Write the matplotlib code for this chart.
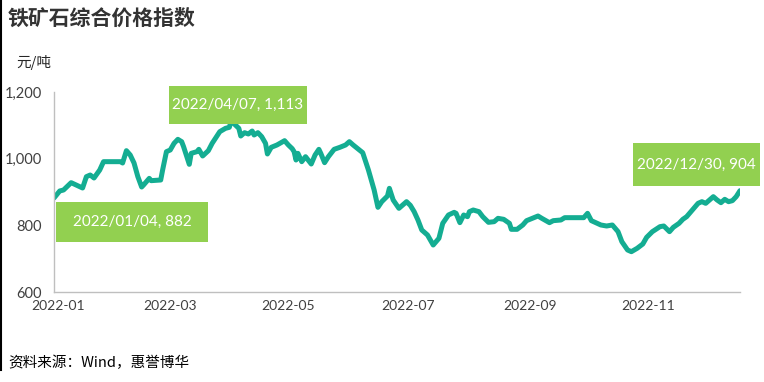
import matplotlib
matplotlib.use("Agg")
import matplotlib.pyplot as plt
from matplotlib.patches import Rectangle
from matplotlib.lines import Line2D
import pandas as pd

plt.rcParams['font.family'] = ['Lato', 'Noto Sans CJK SC', 'DejaVu Sans']

# values (元/吨)
dates = ['2022-01-04', '2022-01-07', '2022-01-09', '2022-01-13', '2022-01-19', '2022-01-21',
         '2022-01-23', '2022-01-25', '2022-01-28', '2022-01-30', '2022-02-02', '2022-02-08',
         '2022-02-09', '2022-02-11', '2022-02-13', '2022-02-15', '2022-02-17', '2022-02-19',
         '2022-02-20', '2022-02-23', '2022-02-24', '2022-03-01', '2022-03-02', '2022-03-04',
         '2022-03-06', '2022-03-08', '2022-03-10', '2022-03-12', '2022-03-13', '2022-03-16',
         '2022-03-17', '2022-03-20', '2022-03-21', '2022-03-23', '2022-03-26', '2022-03-28',
         '2022-04-01', '2022-04-04', '2022-04-06', '2022-04-07', '2022-04-11', '2022-04-12',
         '2022-04-14', '2022-04-16', '2022-04-18', '2022-04-19', '2022-04-21', '2022-04-23',
         '2022-04-25', '2022-04-26', '2022-04-28', '2022-05-01', '2022-05-05', '2022-05-07',
         '2022-05-09', '2022-05-10', '2022-05-11', '2022-05-12', '2022-05-14', '2022-05-16',
         '2022-05-19', '2022-05-21', '2022-05-23', '2022-05-24', '2022-05-26', '2022-05-28',
         '2022-05-31', '2022-06-03', '2022-06-06', '2022-06-08', '2022-06-10', '2022-06-15',
         '2022-06-18', '2022-06-21', '2022-06-23', '2022-06-25', '2022-06-28', '2022-06-29',
         '2022-07-01', '2022-07-04', '2022-07-06', '2022-07-08', '2022-07-10', '2022-07-12',
         '2022-07-14', '2022-07-16', '2022-07-19', '2022-07-20', '2022-07-22', '2022-07-25',
         '2022-07-27', '2022-07-30', '2022-08-02', '2022-08-03', '2022-08-05', '2022-08-07',
         '2022-08-09', '2022-08-10', '2022-08-12', '2022-08-15', '2022-08-17', '2022-08-20',
         '2022-08-23', '2022-08-25', '2022-08-28', '2022-08-31', '2022-09-01', '2022-09-04',
         '2022-09-07', '2022-09-09', '2022-09-12', '2022-09-15', '2022-09-17', '2022-09-21',
         '2022-09-23', '2022-09-27', '2022-09-29', '2022-10-04', '2022-10-09', '2022-10-11',
         '2022-10-13', '2022-10-18', '2022-10-21', '2022-10-24', '2022-10-27', '2022-10-29',
         '2022-11-01', '2022-11-03', '2022-11-06', '2022-11-09', '2022-11-11', '2022-11-14',
         '2022-11-18', '2022-11-20', '2022-11-23', '2022-11-25', '2022-11-28', '2022-11-30',
         '2022-12-02', '2022-12-05', '2022-12-08', '2022-12-10', '2022-12-12', '2022-12-16',
         '2022-12-18', '2022-12-20', '2022-12-22', '2022-12-24', '2022-12-26', '2022-12-28',
         '2022-12-30']
values = [882, 903, 906, 928, 912, 946,
          951, 942, 966, 991, 991, 991,
          987, 1024, 1011, 987, 946, 915,
          921, 941, 934, 936, 966, 1021,
          1026, 1046, 1058, 1051, 1036, 983,
          1016, 1021, 1028, 1008, 1024, 1046,
          1081, 1091, 1094, 1113, 1091, 1068,
          1078, 1074, 1083, 1071, 1078, 1066,
          1046, 1014, 1034, 1041, 1054, 1041,
          1030, 1021, 996, 1016, 991, 1006,
          984, 1011, 1028, 1016, 988, 1006,
          1028, 1034, 1041, 1051, 1041, 1018,
          966, 906, 854, 871, 888, 911,
          876, 851, 861, 871, 860, 841,
          816, 786, 771, 761, 741, 761,
          806, 831, 839, 836, 808, 831,
          826, 841, 846, 841, 826, 809,
          811, 821, 818, 806, 788, 788,
          801, 814, 821, 828, 821, 808,
          814, 816, 823, 823, 823, 836,
          814, 801, 798, 801, 781, 751,
          726, 721, 731, 744, 764, 781,
          796, 798, 781, 794, 806, 818,
          826, 846, 866, 871, 866, 886,
          876, 868, 878, 871, 874, 886,
          904]
tick_dates = ['2022-01-06', '2022-03-06', '2022-05-07', '2022-07-09', '2022-09-11', '2022-11-12']
yticks = [600, 800, 1000, 1200]
label_dates = ['2022-01-04', '2022-04-07', '2022-12-30']

df = pd.DataFrame({'date': pd.to_datetime(dates), 'value': values})

fig = plt.figure(figsize=(7.64, 3.82), dpi=100)
ax = fig.add_axes([54 / 764, 1 - 292 / 382, 686 / 764, 200 / 382])

ax.plot(df['date'], df['value'], color='#14AD92', lw=3.6, solid_joinstyle='round', solid_capstyle='round')

ax.set_xlim(pd.Timestamp('2022-01-04'), pd.Timestamp('2022-12-30'))
ax.set_ylim(600, 1200)
ax.set_yticks(yticks)
ax.set_yticklabels([f'{v:,}' for v in yticks])
tk = pd.to_datetime(tick_dates)
ax.set_xticks(tk)
ax.set_xticklabels([t.strftime('%Y-%m') for t in tk])
ax.tick_params(axis='both', length=0, colors='#404040', labelsize=10)
ax.tick_params(axis='y', pad=9, labelsize=10.5)
ax.tick_params(axis='x', pad=6)
for s in ['top', 'right']:
    ax.spines[s].set_visible(False)
for s in ['left', 'bottom']:
    ax.spines[s].set_color('#BFBFBF')
    ax.spines[s].set_linewidth(1)

# data label boxes (figure pixel boxes: x0, y0 top, x1, y1 bottom)
boxes = [(56, 202, 208, 242), (169, 86, 307, 124), (633, 143, 760, 186)]
for d, (x0, y0, x1, y1) in zip(label_dates, boxes):
    v = df.loc[df['date'] == pd.Timestamp(d), 'value'].iloc[0]
    fig.patches.append(Rectangle((x0 / 764, 1 - y1 / 382), (x1 - x0) / 764, (y1 - y0) / 382,
                                 transform=fig.transFigure, facecolor='#92D050', edgecolor='none'))
    fig.text((x0 + x1) / 2 / 764, 1 - (y0 + y1) / 2 / 382,
             f"{pd.Timestamp(d):%Y/%m/%d}, {v:,}", color='white', fontsize=11,
             ha='center', va='center')

fig.text(8 / 764, 1 - 18 / 382, '铁矿石综合价格指数', fontsize=15, fontweight='bold',
         color='#333333', va='center', ha='left', family=['Noto Sans CJK SC'])
fig.text(34 / 764, 1 - 62 / 382, '元/吨', fontsize=10.5, color='#262626',
         va='center', ha='center', family=['Noto Sans CJK SC'])
fig.text(8 / 764, 1 - 363 / 382, '资料来源：Wind，惠誉博华', fontsize=10.5, color='black',
         va='center', ha='left', family=['Noto Sans CJK SC'])

fig.lines.append(Line2D([0.001, 0.001], [1, 1 - 370 / 382], transform=fig.transFigure,
                        color='black', lw=1.5))

fig.savefig('out.png', dpi=100)
